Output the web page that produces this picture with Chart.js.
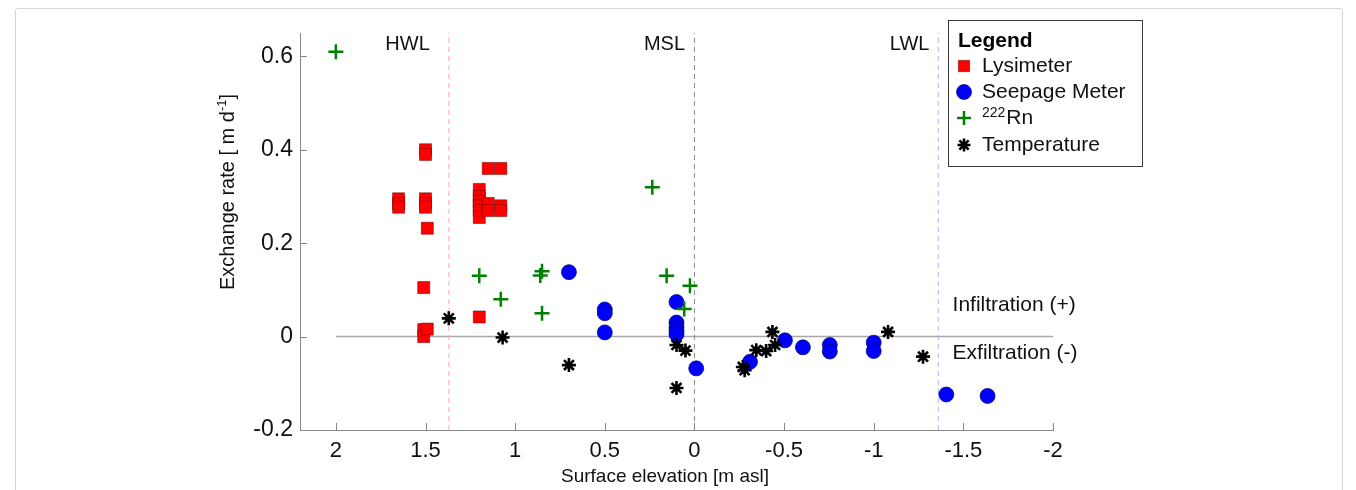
<!DOCTYPE html>
<html>
<head>
<meta charset="utf-8">
<script src="https://cdn.jsdelivr.net/npm/chart.js@4.4.1/dist/chart.umd.min.js"></script>
<style>
  html, body { margin: 0; padding: 0; background: #fff; }
  #wrap { position: relative; width: 1356px; height: 490px; overflow: hidden; }
  #frame { position: absolute; left: 15px; top: 8px; width: 1328px; height: 520px;
           border: 1px solid #d4d4d4; border-radius: 3px; box-sizing: border-box; }
  canvas { position: absolute; left: 0; top: 0; }
</style>
</head>
<body>
<div id="wrap">
  <div id="frame"></div>
  <canvas id="chart" width="1356" height="490"></canvas>
</div>
<script>
// Axis ticks
const xTickValues = [2, 1.5, 1, 0.5, 0, -0.5, -1, -1.5, -2];
const xTickLabels = ['2', '1.5', '1', '0.5', '0', '-0.5', '-1', '-1.5', '-2'];
const yTickValues = [-0.2, 0, 0.2, 0.4, 0.6];
const yTickLabels = ['-0.2', '0', '0.2', '0.4', '0.6'];

// Lysimeter measurements (surface elevation, exchange rate)
const lysimeterX = [1.65, 1.65, 1.65, 1.5, 1.5, 1.5, 1.5, 1.5, 1.49, 1.51, 1.51, 1.51, 1.49,
                    1.2, 1.2, 1.2, 1.2, 1.2, 1.2, 1.2, 1.15, 1.08, 1.15, 1.15, 1.08, 1.08];
const lysimeterY = [0.295, 0.285, 0.277, 0.40, 0.39, 0.295, 0.285, 0.277, 0.232, 0.105, 0.015, 0.0, 0.016,
                    0.315, 0.30, 0.29, 0.28, 0.27, 0.255, 0.042, 0.36, 0.36, 0.285, 0.27, 0.28, 0.27];

// Seepage meter measurements
const seepageX = [0.7, 0.5, 0.5, 0.5, 0.1, 0.1, 0.1, 0.1, 0.1, -0.01, -0.31, -0.505, -0.605,
                  -0.755, -0.755, -1.0, -1.0, -1.405, -1.635];
const seepageY = [0.138, 0.058, 0.05, 0.009, 0.074, 0.03, 0.02, 0.012, 0.005, -0.068, -0.054, -0.008, -0.023,
                  -0.018, -0.032, -0.013, -0.031, -0.124, -0.127];

// 222Rn based estimates
const radonX = [2.0, 1.2, 1.08, 0.85, 0.86, 0.85, 0.235, 0.155, 0.025, 0.057];
const radonY = [0.61, 0.13, 0.08, 0.14, 0.131, 0.05, 0.32, 0.13, 0.109, 0.059];

// Temperature based estimates
const temperatureX = [1.37, 1.07, 0.7, 0.1, 0.05, 0.1, -0.27, -0.28, -0.345, -0.4, -0.45, -0.435, -1.08, -1.275];
const temperatureY = [0.039, -0.002, -0.061, -0.018, -0.03, -0.11, -0.065, -0.072, -0.029, -0.031, -0.018, 0.01, 0.01, -0.043];

// Tidal water levels
const levelNames = ['HWL', 'MSL', 'LWL'];
const levelValues = [1.37, 0, -1.36];
const levelColors = ['#ffaaaa', '#888888', '#aab0ff'];
const levelLabelX = [1.6, 0.167, -1.2];

const FONT = '"Liberation Sans", Arial, Helvetica, sans-serif';
const Y_MIN = -0.2, Y_MAX = 0.65;

const pts = (xs, ys) => xs.map((x, i) => ({ x: x, y: ys[i] }));

const series = [
  { label: 'Lysimeter', data: pts(lysimeterX, lysimeterY), pointStyle: 'rect', pointRadius: 8.5,
    backgroundColor: '#ff0000', borderColor: 'rgba(110,0,0,0.75)', borderWidth: 0.7, order: 4 },
  { label: 'Seepage Meter', data: pts(seepageX, seepageY), pointStyle: 'circle', pointRadius: 7.5,
    backgroundColor: '#0000ff', borderColor: '#00006a', borderWidth: 0.7, order: 3 },
  { label: '222Rn', data: pts(radonX, radonY), pointStyle: 'cross', pointRadius: 7.5,
    backgroundColor: '#008000', borderColor: '#008000', borderWidth: 2.5, order: 2 },
  { label: 'Temperature', data: pts(temperatureX, temperatureY), pointStyle: 'star', pointRadius: 7,
    backgroundColor: '#000', borderColor: '#000', borderWidth: 2.6, order: 1 }
];

const refLines = levelValues.map((v, i) => ({
  label: levelNames[i], data: [{ x: v, y: Y_MIN }, { x: v, y: Y_MAX }],
  showLine: true, pointRadius: 0, borderColor: levelColors[i], borderWidth: 1,
  borderDash: [5, 4], order: 10
}));
refLines.push({
  label: 'zero', data: [{ x: 2, y: 0 }, { x: -2, y: 0 }],
  showLine: true, pointRadius: 0, borderColor: '#a8a8a8', borderWidth: 1.5, order: 11
});

const decorations = {
  id: 'decorations',
  afterDraw(chart) {
    const ctx = chart.ctx;
    const xs = chart.scales.x, ys = chart.scales.y;
    const area = chart.chartArea;
    ctx.save();

    // inward tick marks
    ctx.strokeStyle = '#888';
    ctx.lineWidth = 1;
    ctx.beginPath();
    xTickValues.forEach(v => {
      const px = Math.round(xs.getPixelForValue(v)) + 0.5;
      ctx.moveTo(px, area.bottom);
      ctx.lineTo(px, area.bottom - 7);
    });
    yTickValues.forEach(v => {
      const py = Math.round(ys.getPixelForValue(v)) + 0.5;
      ctx.moveTo(area.left, py);
      ctx.lineTo(area.left + 7, py);
    });
    ctx.stroke();

    // water level labels
    ctx.fillStyle = '#111';
    ctx.font = '20px ' + FONT;
    ctx.textAlign = 'center';
    ctx.textBaseline = 'middle';
    levelNames.forEach((n, i) => {
      ctx.fillText(n, xs.getPixelForValue(levelLabelX[i]), ys.getPixelForValue(0.626));
    });

    // flow direction notes
    ctx.textAlign = 'left';
    ctx.font = '21px ' + FONT;
    ctx.fillText('Infiltration (+)', xs.getPixelForValue(-1.44), ys.getPixelForValue(0.067));
    ctx.fillText('Exfiltration (-)', xs.getPixelForValue(-1.44), ys.getPixelForValue(-0.036));

    // axis titles
    ctx.font = '19px ' + FONT;
    ctx.textAlign = 'center';
    ctx.textBaseline = 'middle';
    ctx.fillText('Surface elevation [m asl]', 665, 477);

    ctx.save();
    ctx.translate(228, 192);
    ctx.rotate(-Math.PI / 2);
    const mainTxt = 'Exchange rate [ m d';
    const supTxt = '-1';
    const endTxt = ']';
    ctx.font = '20px ' + FONT;
    const w1 = ctx.measureText(mainTxt).width;
    const w3 = ctx.measureText(endTxt).width;
    ctx.font = '13px ' + FONT;
    const w2 = ctx.measureText(supTxt).width;
    let x0 = -(w1 + w2 + w3) / 2;
    ctx.textAlign = 'left';
    ctx.font = '20px ' + FONT;
    ctx.fillText(mainTxt, x0, 0);
    ctx.font = '13px ' + FONT;
    ctx.fillText(supTxt, x0 + w1, -6);
    ctx.font = '20px ' + FONT;
    ctx.fillText(endTxt, x0 + w1 + w2, 0);
    ctx.restore();

    // legend box
    const bx = 948.5, by = 20.5, bw = 194, bh = 146;
    ctx.fillStyle = '#fff';
    ctx.fillRect(bx, by, bw, bh);
    ctx.strokeStyle = '#3a3a3a';
    ctx.lineWidth = 1;
    ctx.strokeRect(bx, by, bw, bh);

    ctx.fillStyle = '#000';
    ctx.textAlign = 'left';
    ctx.textBaseline = 'middle';
    ctx.font = 'bold 21px ' + FONT;
    ctx.fillText('Legend', 958, 41);

    const rowY = [66, 92, 118, 145];
    const symX = 964, txtX = 982;
    const legendSize = [8, 7.5, 7, 6.5];
    series.forEach((s, i) => {
      ctx.fillStyle = s.backgroundColor;
      ctx.strokeStyle = s.borderColor;
      ctx.lineWidth = s.borderWidth;
      Chart.helpers.drawPoint(ctx, { pointStyle: s.pointStyle, radius: legendSize[i], rotation: 0, borderWidth: s.borderWidth }, symX, rowY[i]);
      ctx.fillStyle = '#111';
      if (s.label === '222Rn') {
        ctx.font = '14px ' + FONT;
        ctx.fillText('222', txtX, rowY[i] - 5);
        const sw = ctx.measureText('222').width;
        ctx.font = '21px ' + FONT;
        ctx.fillText('Rn', txtX + sw + 1, rowY[i]);
      } else {
        ctx.font = '21px ' + FONT;
        ctx.fillText(s.label, txtX, rowY[i]);
      }
    });
    ctx.restore();
  }
};

new Chart(document.getElementById('chart'), {
  type: 'scatter',
  data: { datasets: [...series, ...refLines] },
  options: {
    responsive: false,
    animation: false,
    devicePixelRatio: 1,
    layout: { padding: { top: 33, right: 303, bottom: 0, left: 0 } },
    plugins: { legend: { display: false }, tooltip: { enabled: false } },
    scales: {
      x: {
        type: 'linear', reverse: true, min: -2, max: 2.2,
        afterBuildTicks: s => { s.ticks = xTickValues.map(v => ({ value: v })); },
        afterFit: s => { s.height = 60; },
        grid: { display: false, drawTicks: false },
        border: { display: true, color: '#888', width: 1 },
        ticks: {
          font: { family: FONT, size: 22 }, color: '#111', padding: 8,
          maxRotation: 0, autoSkip: false,
          callback: (v, i) => xTickLabels[i]
        }
      },
      y: {
        type: 'linear', min: Y_MIN, max: Y_MAX,
        afterBuildTicks: s => { s.ticks = yTickValues.map(v => ({ value: v })); },
        afterFit: s => { s.width = 300; },
        grid: { display: false, drawTicks: false },
        border: { display: true, color: '#888', width: 1 },
        ticks: {
          font: { family: FONT, size: 23 }, color: '#111', padding: 7,
          autoSkip: false,
          callback: (v, i) => yTickLabels[i]
        }
      }
    }
  },
  plugins: [decorations]
});
</script>
</body>
</html>
